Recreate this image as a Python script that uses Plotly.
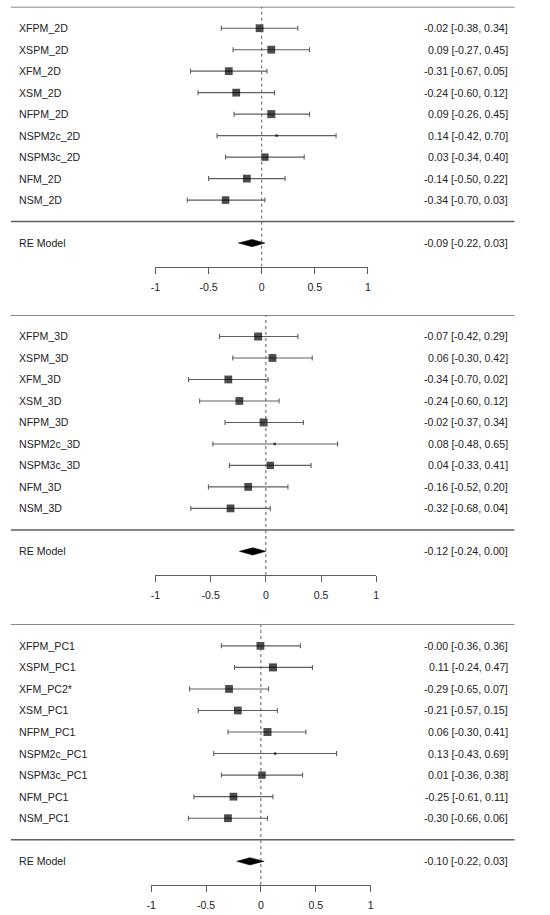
import plotly.graph_objects as go

# --- data ---
labels_2d = ["XFPM_2D", "XSPM_2D", "XFM_2D", "XSM_2D", "NFPM_2D",
             "NSPM2c_2D", "NSPM3c_2D", "NFM_2D", "NSM_2D"]
est_2d = [-0.02, 0.09, -0.31, -0.24, 0.09, 0.14, 0.03, -0.14, -0.34]
lb_2d = [-0.38, -0.27, -0.67, -0.60, -0.26, -0.42, -0.34, -0.50, -0.70]
ub_2d = [0.34, 0.45, 0.05, 0.12, 0.45, 0.70, 0.40, 0.22, 0.03]
re_2d = [-0.09, -0.22, 0.03]

labels_3d = ["XFPM_3D", "XSPM_3D", "XFM_3D", "XSM_3D", "NFPM_3D",
             "NSPM2c_3D", "NSPM3c_3D", "NFM_3D", "NSM_3D"]
est_3d = [-0.07, 0.06, -0.34, -0.24, -0.02, 0.08, 0.04, -0.16, -0.32]
lb_3d = [-0.42, -0.30, -0.70, -0.60, -0.37, -0.48, -0.33, -0.52, -0.68]
ub_3d = [0.29, 0.42, 0.02, 0.12, 0.34, 0.65, 0.41, 0.20, 0.04]
re_3d = [-0.12, -0.24, 0.00]

labels_pc = ["XFPM_PC1", "XSPM_PC1", "XFM_PC2*", "XSM_PC1", "NFPM_PC1",
             "NSPM2c_PC1", "NSPM3c_PC1", "NFM_PC1", "NSM_PC1"]
est_pc = [-0.004, 0.11, -0.29, -0.21, 0.06, 0.13, 0.01, -0.25, -0.30]
lb_pc = [-0.36, -0.24, -0.65, -0.57, -0.30, -0.43, -0.36, -0.61, -0.66]
ub_pc = [0.36, 0.47, 0.07, 0.15, 0.41, 0.69, 0.38, 0.11, 0.06]
re_pc = [-0.10, -0.22, 0.03]

tick_vals = [-1, -0.5, 0, 0.5, 1]
tick_text = ["-1", "-0.5", "0", "0.5", "1"]

W, H = 550, 915
FONT = "Liberation Sans, Arial, sans-serif"
FS = 10.6
TXT = "#222222"
LINE = "#5e5e5e"


def px_x(px):
    return px / W


def px_y(py):
    return 1 - py / H


# pixel geometry of each panel: top rule, axis line, x-axis left/right
panels = [
    dict(labels=labels_2d, est=est_2d, lb=lb_2d, ub=ub_2d, re=re_2d,
         top=6.7, axis=266.7, xl=152.7, xr=368.3),
    dict(labels=labels_3d, est=est_3d, lb=lb_3d, ub=ub_3d, re=re_3d,
         top=315.0, axis=575.0, xl=152.7, xr=376.7),
    dict(labels=labels_pc, est=est_pc, lb=lb_pc, ub=ub_pc, re=re_pc,
         top=624.3, axis=885.0, xl=148.3, xr=371.0),
]

Y_LOW, Y_TOP = -2.1, 10
fig = go.Figure()
shapes, annotations = [], []
layout_axes = {}

for i, p in enumerate(panels):
    sfx = "" if i == 0 else str(i + 1)
    xref, yref = "x" + sfx, "y" + sfx
    n = len(p["labels"])
    rows = [n - j for j in range(n)]

    # point size from inverse standard error (metafor style)
    wi = [1 / (u - l) for l, u in zip(p["lb"], p["ub"])]
    wmin, wmax = min(wi), max(wi)
    sizes = [2.5 + 5.5 * (w - wmin) / (wmax - wmin) for w in wi]

    # confidence intervals first, squares on top
    fig.add_trace(go.Scatter(
        x=p["est"], y=rows, xaxis=xref, yaxis=yref, mode="markers",
        marker=dict(size=0.1, color=LINE, opacity=0),
        error_x=dict(type="data", symmetric=False,
                     array=[u - e for u, e in zip(p["ub"], p["est"])],
                     arrayminus=[e - l for e, l in zip(p["est"], p["lb"])],
                     color=LINE, thickness=1.1, width=2.5),
        showlegend=False, hoverinfo="skip", cliponaxis=False,
    ))
    fig.add_trace(go.Scatter(
        x=p["est"], y=rows, xaxis=xref, yaxis=yref, mode="markers",
        marker=dict(symbol="square", size=sizes, color="black", line=dict(width=0)),
        showlegend=False, hoverinfo="skip", cliponaxis=False,
    ))

    est, lo, hi = p["re"]
    h = 0.17
    fig.add_trace(go.Scatter(
        x=[lo, est, hi, est, lo], y=[-1, -1 + h, -1, -1 - h, -1],
        xaxis=xref, yaxis=yref, mode="lines", fill="toself",
        fillcolor="black", line=dict(width=0.5, color="black"),
        showlegend=False, hoverinfo="skip",
    ))

    for yv in (n + 1, 0):
        shapes.append(dict(type="line", xref="paper", yref=yref,
                           x0=px_x(6), x1=px_x(517), y0=yv, y1=yv,
                           line=dict(color=LINE, width=1.5)))
    shapes.append(dict(type="line", xref=xref, yref=yref, x0=0, x1=0,
                       y0=Y_LOW, y1=n + 1,
                       line=dict(color=LINE, width=1, dash="dot")))

    for lab, r, e, l, u in zip(p["labels"], rows, p["est"], p["lb"], p["ub"]):
        annotations.append(dict(text=lab, xref="paper", yref=yref, x=px_x(12), y=r,
                                xanchor="left", yanchor="middle", showarrow=False))
        annotations.append(dict(text=f"{e:.2f} [{l:.2f}, {u:.2f}]", xref="paper",
                                yref=yref, x=px_x(512), y=r, xanchor="right",
                                yanchor="middle", showarrow=False))
    annotations.append(dict(text="RE Model", xref="paper", yref=yref, x=px_x(12), y=-1,
                            xanchor="left", yanchor="middle", showarrow=False))
    annotations.append(dict(text=f"{est:.2f} [{lo:.2f}, {hi:.2f}]", xref="paper",
                            yref=yref, x=px_x(512), y=-1, xanchor="right",
                            yanchor="middle", showarrow=False))

    layout_axes["xaxis" + sfx] = dict(
        domain=[px_x(p["xl"]), px_x(p["xr"])], range=[-1, 1], anchor=yref,
        tickvals=tick_vals, ticktext=tick_text, showline=True, linecolor=LINE,
        linewidth=1.3, ticks="outside", ticklen=6, tickwidth=1.3, tickcolor=LINE,
        showgrid=False, zeroline=False, ticklabelstandoff=4,
        tickfont=dict(size=FS, color=TXT, family=FONT), fixedrange=True,
    )
    layout_axes["yaxis" + sfx] = dict(
        domain=[px_y(p["axis"]), px_y(p["top"])], range=[Y_LOW, Y_TOP],
        anchor=xref, visible=False, fixedrange=True,
    )

fig.update_layout(
    width=W, height=H, margin=dict(l=0, r=0, t=0, b=0),
    paper_bgcolor="white", plot_bgcolor="white",
    font=dict(family=FONT, size=FS, color=TXT),
    shapes=shapes, annotations=annotations, **layout_axes,
)

# drop the browser's default 8px body margin so the figure fills the window
fig.write_html("out.html", config={"displayModeBar": False},
               post_script="document.body.style.margin='0';")
